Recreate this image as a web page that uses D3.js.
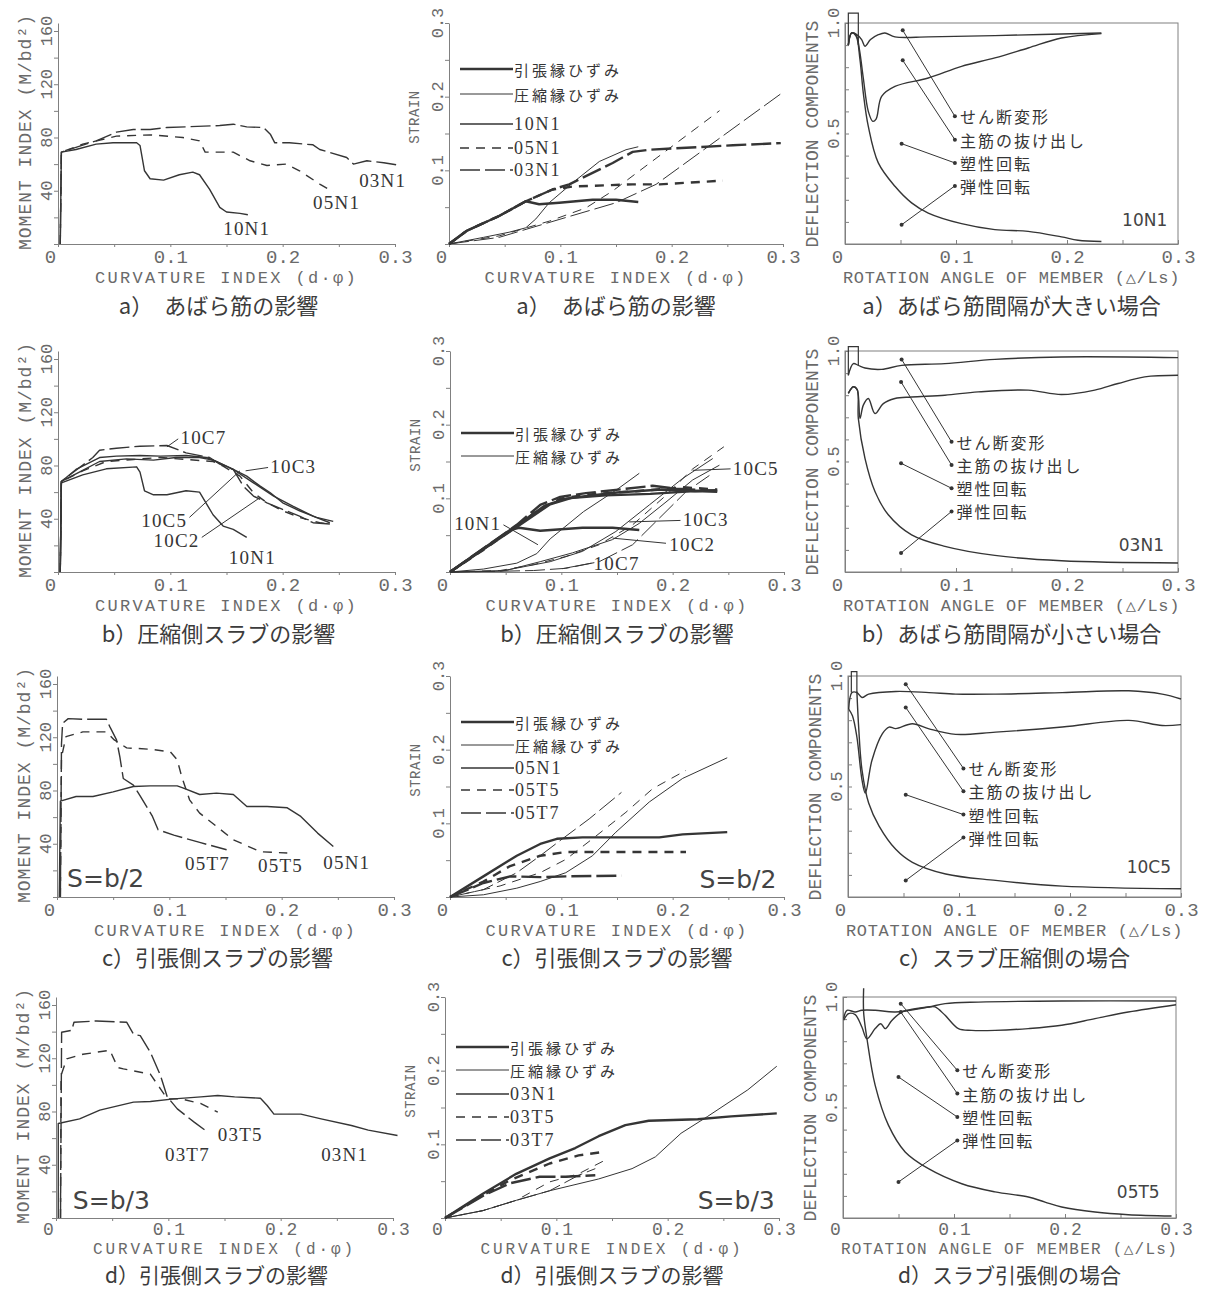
<!DOCTYPE html>
<html>
<head>
<meta charset="utf-8">
<script src="https://cdn.jsdelivr.net/npm/d3@7"></script>
<style>
  body { margin: 0; background: #fff; }
  svg { display: block; }
</style>
</head>
<body>
<script>
// ---------- data ----------
// a) moment - curvature
const a1_10N1 = [[0.002,0],[0.003,69],[0.016,71],[0.034,75],[0.049,76],[0.07,76],[0.073,74],[0.077,55],[0.082,49],[0.094,48],[0.108,52],[0.12,54],[0.126,52],[0.135,41],[0.144,27.5],[0.15,24],[0.162,23],[0.169,22]];
const a1_05N1 = [[0.002,0],[0.003,69],[0.022,75],[0.052,81],[0.082,82],[0.111,80],[0.126,77.5],[0.131,69],[0.156,69],[0.171,62.5],[0.186,59],[0.203,60],[0.215,55],[0.233,45],[0.245,39]];
const a1_03N1 = [[0.002,0],[0.003,69],[0.034,77.5],[0.052,84],[0.067,86],[0.082,86],[0.097,87.5],[0.114,88],[0.144,89],[0.156,90],[0.168,88],[0.183,87.5],[0.189,82.5],[0.193,76],[0.206,76],[0.227,74.5],[0.233,71],[0.257,65],[0.263,60],[0.275,62.5],[0.29,61],[0.305,59]];
// a) strain - curvature (t: tension edge, c: compression edge)
const a2_10N1_t = [[0,0],[0.016,0.018],[0.045,0.038],[0.069,0.058],[0.075,0.056],[0.081,0.054],[0.099,0.056],[0.129,0.06],[0.15,0.06],[0.17,0.057]];
const a2_10N1_c = [[0,0],[0.031,0.009],[0.054,0.016],[0.069,0.022],[0.078,0.034],[0.09,0.056],[0.111,0.083],[0.135,0.112],[0.159,0.128],[0.17,0.132]];
const a2_05N1_t = [[0,0],[0.016,0.018],[0.045,0.038],[0.069,0.058],[0.093,0.074],[0.111,0.078],[0.165,0.081],[0.189,0.081],[0.246,0.086]];
const a2_05N1_c = [[0,0],[0.045,0.011],[0.09,0.031],[0.123,0.049],[0.147,0.072],[0.243,0.181]];
const a2_03N1_t = [[0,0],[0.016,0.018],[0.045,0.038],[0.069,0.058],[0.093,0.074],[0.108,0.081],[0.147,0.11],[0.165,0.125],[0.18,0.128],[0.255,0.134],[0.298,0.137]];
const a2_03N1_c = [[0,0],[0.045,0.009],[0.105,0.036],[0.15,0.056],[0.186,0.081],[0.3,0.206]];
// a) deflection components (10N1)
const a3_shear = [[0.003,0.9],[0.006,0.955],[0.01,0.95],[0.015,0.925],[0.018,0.895],[0.023,0.925],[0.03,0.947],[0.036,0.955],[0.045,0.937],[0.075,0.937],[0.135,0.943],[0.231,0.955]];
const a3_pull = [[0.003,0.9],[0.006,0.955],[0.01,0.945],[0.013,0.88],[0.0165,0.75],[0.021,0.6],[0.025,0.555],[0.028,0.565],[0.033,0.668],[0.045,0.713],[0.075,0.751],[0.105,0.804],[0.135,0.842],[0.165,0.887],[0.195,0.932],[0.231,0.952]];
const a3_plastic = [[0.003,0.9],[0.006,0.955],[0.01,0.94],[0.0135,0.834],[0.0165,0.683],[0.021,0.532],[0.03,0.367],[0.045,0.261],[0.06,0.186],[0.075,0.14],[0.105,0.092],[0.135,0.065],[0.165,0.057],[0.195,0.032],[0.21,0.017],[0.231,0.011]];
const a3_spike = [[0.003,0.9],[0.003,1.045],[0.012,1.045],[0.012,0.9]];

// b) moment - curvature
const b1_10N1 = [[0.002,0],[0.003,67],[0.022,73],[0.043,77.5],[0.07,79],[0.073,75],[0.077,61],[0.085,58],[0.097,58],[0.114,61],[0.126,60],[0.138,43],[0.147,34.5],[0.156,32],[0.168,26]];
const b1_10C7 = [[0.002,0],[0.003,68],[0.013,74.5],[0.031,86],[0.037,91.5],[0.052,93],[0.073,94.5],[0.097,95],[0.114,89.5],[0.135,86],[0.144,81],[0.156,77],[0.165,64.5],[0.174,57],[0.186,52],[0.2,47],[0.215,42],[0.227,37],[0.242,36]];
const b1_10C3 = [[0.002,0],[0.003,68],[0.016,77],[0.037,86],[0.052,87],[0.073,87.5],[0.091,87],[0.114,87.5],[0.132,86],[0.141,83],[0.156,77],[0.168,72],[0.18,64.5],[0.189,59.5],[0.2,52],[0.215,46],[0.23,41],[0.245,38]];
const b1_10C5 = [[0.002,0],[0.003,68],[0.022,76],[0.043,83],[0.067,84.5],[0.091,86],[0.114,84.5],[0.138,83],[0.147,79.5],[0.162,72],[0.174,59.5],[0.186,52],[0.2,46],[0.215,41],[0.233,37],[0.242,36]];
const b1_10C2 = [[0.002,0],[0.003,68],[0.019,75],[0.037,83],[0.061,85],[0.085,84],[0.105,86],[0.126,86],[0.138,84],[0.156,77],[0.174,67],[0.192,57],[0.209,49.5],[0.227,42],[0.242,37]];
// b) strain - curvature
const b2_10N1_t = [[0,0],[0.03,0.032],[0.054,0.057],[0.062,0.06],[0.081,0.056],[0.119,0.06],[0.146,0.06],[0.17,0.057]];
const b2_10N1_c = [[0,0],[0.03,0.004],[0.06,0.012],[0.078,0.025],[0.09,0.045],[0.12,0.082],[0.15,0.112],[0.17,0.134]];
const b2_10C7_t = [[0,0],[0.03,0.032],[0.06,0.064],[0.081,0.091],[0.099,0.102],[0.122,0.107],[0.158,0.113],[0.182,0.117],[0.203,0.113],[0.24,0.11]];
const b2_10C7_c = [[0,0],[0.045,0.001],[0.075,0.002],[0.104,0.005],[0.134,0.014],[0.164,0.037],[0.188,0.073],[0.212,0.109],[0.233,0.131]];
const b2_10C5_t = [[0,0],[0.03,0.03],[0.06,0.062],[0.08,0.085],[0.1,0.1],[0.13,0.106],[0.17,0.11],[0.21,0.115],[0.24,0.112]];
const b2_10C5_c = [[0,0],[0.045,0.002],[0.075,0.01],[0.104,0.021],[0.134,0.037],[0.164,0.064],[0.194,0.104],[0.218,0.14],[0.246,0.17]];
const b2_10C3_t = [[0,0],[0.03,0.031],[0.06,0.063],[0.085,0.09],[0.105,0.1],[0.14,0.104],[0.18,0.106],[0.22,0.11],[0.24,0.109]];
const b2_10C3_c = [[0,0],[0.045,0.001],[0.09,0.014],[0.119,0.028],[0.149,0.055],[0.179,0.091],[0.209,0.127],[0.236,0.154]];
const b2_10C2_t = [[0,0],[0.03,0.031],[0.06,0.061],[0.09,0.092],[0.11,0.101],[0.15,0.108],[0.19,0.112],[0.22,0.11],[0.24,0.111]];
const b2_10C2_c = [[0,0],[0.05,0.002],[0.081,0.014],[0.11,0.026],[0.146,0.044],[0.17,0.066],[0.194,0.095],[0.218,0.125],[0.242,0.145]];
// b) deflection components (03N1)
const b3_shear = [[0.003,0.89],[0.0075,0.943],[0.012,0.935],[0.018,0.923],[0.033,0.917],[0.051,0.935],[0.09,0.943],[0.135,0.962],[0.195,0.973],[0.3,0.97]];
const b3_pull = [[0.003,0.808],[0.0075,0.838],[0.011,0.825],[0.0135,0.695],[0.0165,0.755],[0.021,0.785],[0.027,0.717],[0.0345,0.762],[0.045,0.785],[0.06,0.792],[0.09,0.8],[0.12,0.815],[0.165,0.823],[0.195,0.803],[0.225,0.823],[0.246,0.853],[0.27,0.883],[0.3,0.89]];
const b3_plastic = [[0.003,0.808],[0.0075,0.838],[0.011,0.825],[0.012,0.695],[0.018,0.514],[0.027,0.364],[0.039,0.259],[0.06,0.168],[0.09,0.116],[0.135,0.075],[0.195,0.051],[0.3,0.041]];
const b3_spike = [[0.003,0.89],[0.003,1.02],[0.012,1.02],[0.012,0.935]];

// c) moment - curvature
const c1_05N1 = [[0.002,0],[0.003,72],[0.017,75.5],[0.032,75.5],[0.05,79],[0.068,83],[0.083,83.5],[0.107,83.5],[0.112,82],[0.127,77],[0.142,78],[0.157,77],[0.169,68],[0.187,68],[0.205,67],[0.217,60.5],[0.232,48],[0.246,38]];
const c1_05T7 = [[0.003,0],[0.004,115],[0.005,130.5],[0.01,134],[0.023,133.5],[0.044,133.5],[0.047,128],[0.053,118],[0.056,105],[0.059,89],[0.068,84],[0.074,76],[0.085,60.5],[0.09,50.5],[0.104,46.5],[0.127,41],[0.151,35.5]];
const c1_05T5 = [[0.003,0],[0.004,105],[0.008,120.5],[0.023,124],[0.044,124],[0.051,118],[0.062,112],[0.083,111],[0.101,109],[0.107,103],[0.111,90.5],[0.118,73],[0.127,63],[0.142,53],[0.157,43],[0.181,34],[0.205,33]];
// c) strain - curvature
const c2_05N1_t = [[0,0],[0.03,0.028],[0.06,0.056],[0.081,0.072],[0.096,0.079],[0.119,0.081],[0.164,0.081],[0.188,0.081],[0.209,0.085],[0.249,0.088]];
const c2_05N1_c = [[0,0],[0.03,0.003],[0.06,0.012],[0.081,0.021],[0.104,0.033],[0.128,0.056],[0.149,0.088],[0.179,0.129],[0.209,0.161],[0.249,0.189]];
const c2_05T5_t = [[0,0],[0.03,0.021],[0.054,0.042],[0.081,0.056],[0.104,0.061],[0.134,0.061],[0.212,0.061]];
const c2_05T5_c = [[0,0],[0.045,0.015],[0.081,0.033],[0.104,0.051],[0.128,0.079],[0.158,0.115],[0.182,0.147],[0.212,0.172]];
const c2_05T7_t = [[0,0],[0.03,0.019],[0.054,0.028],[0.081,0.027],[0.104,0.028],[0.154,0.029]];
const c2_05T7_c = [[0,0],[0.03,0.01],[0.06,0.033],[0.081,0.056],[0.101,0.079],[0.125,0.106],[0.154,0.142]];
// c) deflection components (10C5)
const c3_shear = [[0.0006,0.85],[0.0036,0.925],[0.008,0.925],[0.0126,0.903],[0.0186,0.918],[0.043,0.93],[0.073,0.925],[0.097,0.918],[0.133,0.918],[0.193,0.925],[0.253,0.933],[0.283,0.918],[0.3,0.896]];
const c3_pull = [[0.0006,0.85],[0.004,0.82],[0.008,0.724],[0.0126,0.53],[0.0156,0.47],[0.0216,0.619],[0.031,0.739],[0.037,0.769],[0.043,0.762],[0.058,0.784],[0.073,0.761],[0.097,0.736],[0.133,0.746],[0.193,0.769],[0.253,0.799],[0.283,0.776],[0.3,0.78]];
const c3_plastic = [[0.008,0.93],[0.0096,0.769],[0.0126,0.575],[0.0186,0.425],[0.028,0.321],[0.043,0.216],[0.058,0.157],[0.088,0.104],[0.133,0.075],[0.193,0.049],[0.3,0.037]];
const c3_spike = [[0.003,0.925],[0.003,1.02],[0.008,1.02],[0.008,0.925]];

// d) moment - curvature
const d1_03N1 = [[0.002,0],[0.002,71],[0.021,74.5],[0.039,81],[0.069,87],[0.084,87.5],[0.105,89.5],[0.129,91],[0.144,92],[0.159,91],[0.182,90],[0.188,84.5],[0.194,78],[0.218,78],[0.236,74.5],[0.263,69.5],[0.278,66],[0.304,62]];
const d1_03T7 = [[0.004,0],[0.005,139.5],[0.014,141],[0.016,147],[0.036,148],[0.063,147],[0.069,138],[0.075,137],[0.084,124.5],[0.093,107],[0.099,91],[0.108,82],[0.123,72],[0.135,64.5]];
const d1_03T5 = [[0.004,0],[0.0045,107],[0.0095,119.5],[0.024,123],[0.048,126],[0.055,113],[0.06,112],[0.084,108],[0.093,97],[0.099,89.5],[0.111,89.5],[0.129,86],[0.144,79.5]];
// d) strain - curvature
const d2_03N1_t = [[0,0],[0.034,0.033],[0.064,0.06],[0.094,0.081],[0.117,0.095],[0.138,0.111],[0.162,0.126],[0.183,0.132],[0.227,0.134],[0.257,0.138],[0.298,0.142]];
const d2_03N1_c = [[0,0],[0.034,0.01],[0.064,0.024],[0.094,0.037],[0.138,0.053],[0.168,0.067],[0.189,0.083],[0.212,0.115],[0.236,0.138],[0.272,0.174],[0.298,0.206]];
const d2_03T5_t = [[0,0],[0.034,0.031],[0.058,0.051],[0.094,0.074],[0.12,0.085],[0.144,0.09]];
const d2_03T5_c = [[0,0],[0.034,0.01],[0.064,0.024],[0.094,0.049],[0.12,0.06],[0.147,0.081]];
const d2_03T7_t = [[0,0],[0.034,0.03],[0.058,0.047],[0.085,0.056],[0.108,0.056],[0.135,0.058]];
const d2_03T7_c = [[0,0],[0.034,0.01],[0.064,0.024],[0.094,0.037],[0.12,0.058],[0.135,0.067]];
// d) deflection components (05T5)
const d3_shear = [[0.0006,0.902],[0.0036,0.94],[0.011,0.932],[0.017,0.94],[0.029,0.94],[0.047,0.932],[0.077,0.955],[0.092,0.97],[0.122,0.977],[0.197,0.982],[0.3,0.982]];
const d3_pull = [[0.0006,0.895],[0.005,0.925],[0.011,0.92],[0.017,0.864],[0.0216,0.811],[0.029,0.857],[0.034,0.879],[0.038,0.857],[0.044,0.894],[0.053,0.932],[0.065,0.947],[0.077,0.955],[0.083,0.955],[0.092,0.917],[0.104,0.857],[0.116,0.849],[0.137,0.849],[0.167,0.857],[0.197,0.872],[0.227,0.902],[0.257,0.932],[0.3,0.965]];
const d3_plastic = [[0.0186,1.04],[0.0186,0.93],[0.0216,0.811],[0.029,0.6],[0.041,0.419],[0.056,0.299],[0.077,0.223],[0.107,0.155],[0.137,0.118],[0.167,0.095],[0.182,0.072],[0.197,0.05],[0.227,0.027],[0.257,0.015],[0.296,0.009]];

// tick labels and texts
const xTickLabels = [0, 0.1, 0.2, 0.3];
const momentTickLabels = [40, 80, 120, 160];
const strainTickLabels = [0.1, 0.2, 0.3];
const deflTickLabels = [0.5, 1.0];
const deflNames = ["せん断変形", "主筋の抜け出し", "塑性回転", "弾性回転"];
const edgeNames = ["引張縁ひずみ", "圧縮縁ひずみ"];
const captions = [
  ["a）　あばら筋の影響", "a）　あばら筋の影響", "a）あばら筋間隔が大きい場合"],
  ["b）圧縮側スラブの影響", "b）圧縮側スラブの影響", "b）あばら筋間隔が小さい場合"],
  ["c）引張側スラブの影響", "c）引張側スラブの影響", "c）スラブ圧縮側の場合"],
  ["d）引張側スラブの影響", "d）引張側スラブの影響", "d）スラブ引張側の場合"]
];
const yTitles = ["MOMENT INDEX (M/bd²)", "STRAIN", "DEFLECTION COMPONENTS"];
const xTitles = ["CURVATURE INDEX (d·φ)", "CURVATURE INDEX (d·φ)", "ROTATION ANGLE OF MEMBER (△/Ls)"];

// ---------- layout ----------
const W = 1209, H = 1290;
const rowZero = [244, 572, 897, 1218];
// per row: tick-label baseline, tick size, x-title baseline, x-title size, caption baseline, caption size
const rowText = [
  [19, 19, 39, 17, 70, 22],
  [19, 19, 39, 17, 70, 22],
  [19, 19, 39, 17, 69, 22],
  [17, 18, 36, 16, 65, 21]
];
const colLeft = [[58, 449, 845], [58, 450, 845], [57, 450, 848], [56, 445, 843]];
const colW = [337, 334, 333];
const PH = 221;
const yDomain = [[0, 166], [0, 0.3], [0, 1]];

const DASH = { solid: null, dash: "9,7", long: "20,5" };
const INK = "#353535", AXIS = "#808080", TXT = "#6a6a6a", CAP = "#3c3c3c";
const F_MONO = "'Liberation Mono','DejaVu Sans Mono',monospace";
const F_JP = "'Noto Sans CJK JP','Noto Sans CJK SC',sans-serif";
const F_SERIF = "'Liberation Serif','DejaVu Serif',serif";
const F_SANS = "'DejaVu Sans','Liberation Sans',sans-serif";

const panels = [
  { row: 0, col: 0, series: [[a1_10N1, "solid"], [a1_05N1, "dash"], [a1_03N1, "long"]],
    notes: [{ t: "10N1", at: [0.168, 12] }, { t: "05N1", at: [0.248, 31] }, { t: "03N1", at: [0.289, 48] }] },
  { row: 0, col: 1,
    specimens: [{ n: "10N1", t: a2_10N1_t, c: a2_10N1_c, s: "solid" }, { n: "05N1", t: a2_05N1_t, c: a2_05N1_c, s: "dash" }, { n: "03N1", t: a2_03N1_t, c: a2_03N1_c, s: "long" }],
    legendY: [-175, -150, -120, -96, -74], legendNames: true, notes: [] },
  { row: 0, col: 2, curves: [a3_shear, a3_pull, a3_plastic], spike: a3_spike,
    marks: [[0.099, 0.578, 0.052, 0.967], [0.099, 0.472, 0.052, 0.831], [0.099, 0.367, 0.051, 0.454], [0.099, 0.263, 0.051, 0.087]],
    tag: { t: "10N1", at: [0.27, 0.11] } },

  { row: 1, col: 0, series: [[b1_10N1, "solid"], [b1_10C7, "long"], [b1_10C3, "solid"], [b1_10C5, "dash"], [b1_10C2, "solid"]],
    notes: [
      { t: "10C7", at: [0.109, 101], anchor: "start", leader: [[0.097, 94], [0.107, 100]] },
      { t: "10C3", at: [0.189, 79], anchor: "start", leader: [[0.167, 76], [0.187, 78.5]] },
      { t: "10C5", at: [0.115, 39], anchor: "end", leader: [[0.117, 41], [0.162, 76]] },
      { t: "10C2", at: [0.126, 24], anchor: "end", leader: [[0.128, 26], [0.18, 56]] },
      { t: "10N1", at: [0.173, 11] }] },
  { row: 1, col: 1,
    specimens: [{ n: "10N1", t: b2_10N1_t, c: b2_10N1_c, s: "solid" }, { n: "10C7", t: b2_10C7_t, c: b2_10C7_c, s: "long" },
                { n: "10C5", t: b2_10C5_t, c: b2_10C5_c, s: "dash" }, { n: "10C3", t: b2_10C3_t, c: b2_10C3_c, s: "solid" },
                { n: "10C2", t: b2_10C2_t, c: b2_10C2_c, s: "solid" }],
    legendY: [-139, -116], legendNames: false,
    notes: [
      { t: "10C5", at: [0.254, 0.14], anchor: "start", leader: [[0.218, 0.138], [0.252, 0.14]] },
      { t: "10C3", at: [0.209, 0.0706], anchor: "start", leader: [[0.161, 0.068], [0.207, 0.07]] },
      { t: "10C2", at: [0.197, 0.037], anchor: "start", leader: [[0.146, 0.046], [0.194, 0.039]] },
      { t: "10C7", at: [0.129, 0.012], anchor: "start", leader: [[0.101, 0.0045], [0.127, 0.012]] },
      { t: "10N1", at: [0.046, 0.066], anchor: "end", leader: [[0.048, 0.064], [0.079, 0.037]] }] },
  { row: 1, col: 2, curves: [b3_shear, b3_pull, b3_plastic], spike: b3_spike,
    marks: [[0.096, 0.589, 0.051, 0.962], [0.096, 0.484, 0.0505, 0.86], [0.096, 0.379, 0.0505, 0.492], [0.096, 0.274, 0.0505, 0.086]],
    tag: { t: "03N1", at: [0.267, 0.123] } },

  { row: 2, col: 0, series: [[c1_05N1, "solid"], [c1_05T7, "long"], [c1_05T5, "dash"]],
    notes: [{ t: "05T7", at: [0.134, 25.5] }, { t: "05T5", at: [0.199, 24] }, { t: "05N1", at: [0.258, 26] },
            { t: "S=b/2", at: [0.009, 14], anchor: "start", big: true }] },
  { row: 2, col: 1,
    specimens: [{ n: "05N1", t: c2_05N1_t, c: c2_05N1_c, s: "solid" }, { n: "05T5", t: c2_05T5_t, c: c2_05T5_c, s: "dash" }, { n: "05T7", t: c2_05T7_t, c: c2_05T7_c, s: "long" }],
    legendY: [-175, -152, -129, -107, -84], legendNames: true,
    notes: [{ t: "S=b/2", at: [0.224, 0.024], anchor: "start", big: true }] },
  { row: 2, col: 2, curves: [c3_shear, c3_pull, c3_plastic], spike: c3_spike,
    marks: [[0.104, 0.582, 0.052, 0.963], [0.104, 0.478, 0.052, 0.858], [0.104, 0.373, 0.052, 0.463], [0.104, 0.269, 0.052, 0.075]],
    tag: { t: "10C5", at: [0.271, 0.134] } },

  { row: 3, col: 0, series: [[d1_03N1, "solid"], [d1_03T7, "long"], [d1_03T5, "dash"]],
    notes: [{ t: "03T5", at: [0.164, 63] }, { t: "03T7", at: [0.117, 48] }, { t: "03N1", at: [0.257, 48] },
            { t: "S=b/3", at: [0.015, 13], anchor: "start", big: true }] },
  { row: 3, col: 1,
    specimens: [{ n: "03N1", t: d2_03N1_t, c: d2_03N1_c, s: "solid" }, { n: "03T5", t: d2_03T5_t, c: d2_03T5_c, s: "dash" }, { n: "03T7", t: d2_03T7_t, c: d2_03T7_c, s: "long" }],
    legendY: [-171, -148, -124, -101, -78], legendNames: true,
    notes: [{ t: "S=b/3", at: [0.227, 0.024], anchor: "start", big: true }] },
  { row: 3, col: 2, curves: [d3_shear, d3_pull, d3_plastic],
    marks: [[0.103, 0.668, 0.052, 0.97], [0.103, 0.563, 0.052, 0.932], [0.103, 0.457, 0.05, 0.638], [0.103, 0.351, 0.05, 0.163]],
    tag: { t: "05T5", at: [0.266, 0.118] } }
];

// ---------- drawing ----------
const svg = d3.select("body").append("svg").attr("width", W).attr("height", H);
svg.append("rect").attr("width", W).attr("height", H).attr("fill", "#fff");

const fmt1 = d3.format(".1f");

function drawFrame(g, p, x, y) {
  const L = x(0), R = x(0.3), Z = y(0), T = y.range()[1];
  const box = p.col === 2;
  const rt = rowText[p.row];
  const xt = d3.range(7).map(i => i * 0.05);
  const yt = p.col === 0 ? d3.range(0, 161, 20) : p.col === 1 ? d3.range(7).map(i => i * 0.05) : d3.range(11).map(i => i / 10);

  if (box) {
    g.append("rect").attr("x", L).attr("y", T).attr("width", R - L).attr("height", Z - T)
      .attr("fill", "none").attr("stroke", AXIS).attr("stroke-width", 1);
  }
  g.append("g").attr("transform", `translate(0,${Z})`)
    .call(d3.axisBottom(x).tickValues(xt).tickSize(box ? -4 : 3).tickSizeOuter(0).tickFormat(""));
  g.append("g").attr("transform", `translate(${L},0)`)
    .call(d3.axisLeft(y).tickValues(yt).tickSize(box ? -4 : 4).tickSizeOuter(0).tickFormat(""));
  g.selectAll(".domain, .tick line").attr("stroke", AXIS).attr("stroke-width", 1);

  // x tick labels
  const xl = g.append("g").attr("transform", `translate(0,${Z})`)
    .call(d3.axisBottom(x).tickValues(xTickLabels).tickSize(0).tickPadding(rt[0] - 0.71 * rt[1])
      .tickFormat(d => d === 0 ? "0" : fmt1(d)));
  xl.select(".domain").remove();
  xl.selectAll("text").attr("font-family", F_MONO).attr("font-size", rt[1]).attr("fill", TXT)
    .attr("dx", d => d === 0 ? -8 : 0);

  // y tick labels (rotated)
  const yl = p.col === 0 ? momentTickLabels : p.col === 1 ? strainTickLabels : deflTickLabels;
  g.selectAll(null).data(yl).join("text")
    .attr("transform", d => `translate(${L - 6},${y(d)}) rotate(-90)`)
    .attr("text-anchor", "middle")
    .attr("font-family", F_MONO).attr("font-size", 17).attr("fill", TXT)
    .text(d => p.col === 0 ? d : fmt1(d));

  // axis titles
  const ty = [[-27, -112, 18, 1], [-30, -127, 14, 0.5], [-27, -110, 18, 0]][p.col];
  g.append("text")
    .attr("transform", `translate(${L + ty[0]},${Z + ty[1]}) rotate(-90)`)
    .attr("text-anchor", "middle").attr("font-family", F_MONO).attr("font-size", ty[2])
    .attr("letter-spacing", ty[3]).attr("fill", TXT).text(yTitles[p.col]);
  const titleW = p.col === 2 ? 337 : 263;
  const nChars = xTitles[p.col].length;
  g.append("text")
    .attr("x", (L + R) / 2).attr("y", Z + rt[2]).attr("text-anchor", "middle")
    .attr("font-family", F_MONO).attr("font-size", rt[3])
    .attr("letter-spacing", Math.max(0, titleW / nChars - 0.6 * rt[3]))
    .attr("fill", TXT).text(xTitles[p.col]);

  // caption
  g.append("text")
    .attr("x", (L + R) / 2 - (p.col === 0 ? 8 : 0)).attr("y", Z + rt[4]).attr("text-anchor", "middle")
    .attr("font-family", F_JP).attr("font-size", rt[5]).attr("fill", CAP)
    .text(captions[p.row][p.col]);
}

function drawNotes(g, p, x, y) {
  (p.notes || []).forEach(n => {
    if (n.leader) {
      g.append("path").attr("d", d3.line().x(d => x(d[0])).y(d => y(d[1]))(n.leader))
        .attr("fill", "none").attr("stroke", INK).attr("stroke-width", 1);
    }
    g.append("text")
      .attr("x", x(n.at[0])).attr("y", y(n.at[1]))
      .attr("text-anchor", n.anchor || "middle").attr("dominant-baseline", "central")
      .attr("font-family", n.big ? F_SANS : F_SERIF)
      .attr("font-size", n.big ? 25 : 19).attr("letter-spacing", n.big ? 0 : 1.2)
      .attr("fill", n.big ? "#444" : INK).text(n.t);
  });
}

panels.forEach(p => {
  const L = colLeft[p.row][p.col], Z = rowZero[p.row];
  const x = d3.scaleLinear().domain([0, 0.3]).range([L, L + colW[p.col]]);
  const y = d3.scaleLinear().domain(yDomain[p.col]).range([Z, Z - PH]);
  const g = svg.append("g");
  drawFrame(g, p, x, y);

  const lin = d3.line().x(d => x(d[0])).y(d => y(d[1]));

  if (p.col === 0) {
    p.series.forEach(([data, s]) => {
      g.append("path").attr("d", lin(data)).attr("fill", "none")
        .attr("stroke", INK).attr("stroke-width", 1.4).attr("stroke-dasharray", DASH[s])
        .attr("stroke-linejoin", "round");
    });
  }

  if (p.col === 1) {
    p.specimens.forEach(sp => {
      g.append("path").attr("d", lin(sp.c)).attr("fill", "none")
        .attr("stroke", INK).attr("stroke-width", 1).attr("stroke-dasharray", DASH[sp.s]);
    });
    p.specimens.forEach(sp => {
      g.append("path").attr("d", lin(sp.t)).attr("fill", "none")
        .attr("stroke", INK).attr("stroke-width", 2.4).attr("stroke-dasharray", DASH[sp.s])
        .attr("stroke-linejoin", "round");
    });
    // legend
    const entries = [{ t: edgeNames[0], s: "solid", w: 2.4, jp: true }, { t: edgeNames[1], s: "solid", w: 1, jp: true }];
    if (p.legendNames) p.specimens.forEach(sp => entries.push({ t: sp.n, s: sp.s, w: 1.3 }));
    entries.forEach((e, i) => {
      const ly = Z + p.legendY[i];
      g.append("line").attr("x1", L + 11).attr("x2", L + 64).attr("y1", ly).attr("y2", ly)
        .attr("stroke", INK).attr("stroke-width", e.w).attr("stroke-dasharray", DASH[e.s]);
      g.append("text").attr("x", L + 65).attr("y", ly).attr("dominant-baseline", "central")
        .attr("font-family", e.jp ? F_JP : F_SERIF).attr("font-size", e.jp ? 15 : 18)
        .attr("letter-spacing", e.jp ? 3 : 1.8).attr("fill", INK).text(e.t);
    });
  }

  if (p.col === 2) {
    const smooth = d3.line().x(d => x(d[0])).y(d => y(d[1])).curve(d3.curveCatmullRom.alpha(0.5));
    p.curves.forEach(c => {
      g.append("path").attr("d", smooth(c)).attr("fill", "none")
        .attr("stroke", INK).attr("stroke-width", 1.4);
    });
    if (p.spike) {
      g.append("path").attr("d", lin(p.spike)).attr("fill", "none")
        .attr("stroke", INK).attr("stroke-width", 1.2);
    }
    p.marks.forEach((m, i) => {
      g.append("line").attr("x1", x(m[0])).attr("y1", y(m[1])).attr("x2", x(m[2])).attr("y2", y(m[3]))
        .attr("stroke", INK).attr("stroke-width", 1);
      [[m[0], m[1]], [m[2], m[3]]].forEach(pt => {
        g.append("circle").attr("cx", x(pt[0])).attr("cy", y(pt[1])).attr("r", 2).attr("fill", INK);
      });
      g.append("text").attr("x", x(m[0]) + 5).attr("y", y(m[1])).attr("dominant-baseline", "central")
        .attr("font-family", F_JP).attr("font-size", 16).attr("letter-spacing", 2)
        .attr("fill", INK).text(deflNames[i]);
    });
    g.append("text").attr("x", x(p.tag.at[0])).attr("y", y(p.tag.at[1]))
      .attr("text-anchor", "middle").attr("dominant-baseline", "central")
      .attr("font-family", F_SANS).attr("font-size", 17).attr("fill", "#444").text(p.tag.t);
  }

  drawNotes(g, p, x, y);
});
</script>
</body>
</html>
